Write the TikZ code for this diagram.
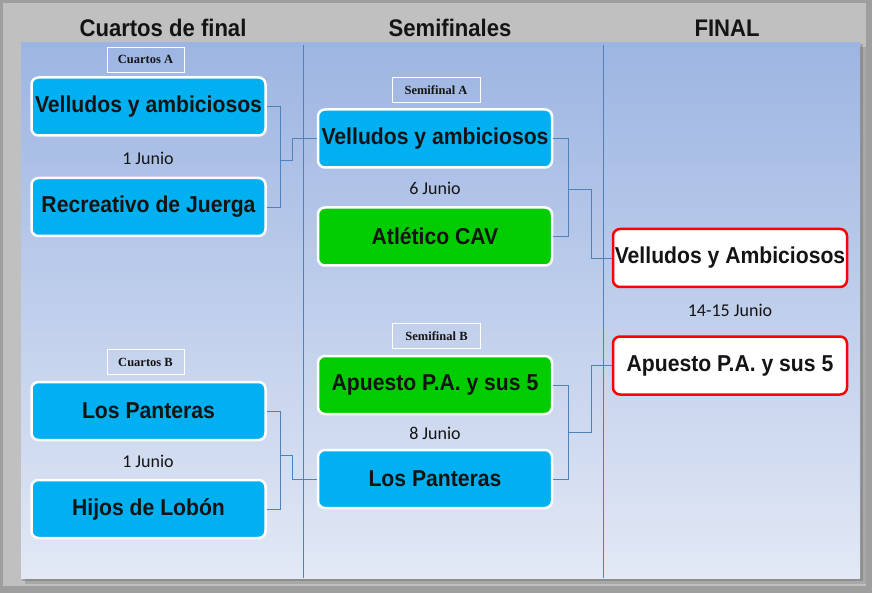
\documentclass[tikz,border=0pt]{standalone}
\usepackage{fontspec}
\setmainfont{Liberation Sans}
\newfontfamily\teamfont[FakeStretch=0.92]{Liberation Sans}
\newfontfamily\datefont{Carlito}
\newfontfamily\tagfont{Liberation Serif}
\definecolor{brBlue}{RGB}{0, 176, 240}
\definecolor{brGreen}{RGB}{0, 204, 0}
\definecolor{brRed}{RGB}{255, 0, 0}
\definecolor{brLink}{RGB}{79, 129, 189}
\definecolor{brTop}{RGB}{157, 181, 226}
\definecolor{brBottom}{RGB}{226, 232, 245}
\definecolor{brFrame}{RGB}{192, 192, 192}
\definecolor{brEdge}{RGB}{158, 158, 158}
\definecolor{brInk}{RGB}{20, 20, 20}
\usetikzlibrary{positioning}
\tikzset{
  team/.style={rectangle, rounded corners=7pt, draw=white, line width=2.5pt, fill=#1, minimum width=234pt, minimum height=58pt, inner sep=0pt, align=center, text=brInk, font=\teamfont\bfseries\fontsize{23}{26}\selectfont},
  team/.default=brBlue,
  finalteam/.style={team=white, draw=brRed},
  tagbox/.style={rectangle, draw=white, line width=0.8pt, minimum width=77pt, minimum height=25pt, inner sep=0pt, text=brInk, font=\tagfont\bfseries\fontsize{12.5}{14}\selectfont},
  datelbl/.style={text=brInk, font=\datefont\fontsize{18}{20}\selectfont},
  colhead/.style={text=brInk, font=\teamfont\bfseries\fontsize{24}{28}\selectfont},
  link/.style={draw=brLink, line width=0.8pt},
}

\begin{document}
\begin{tikzpicture}[x=1pt, y=-1pt]
  \useasboundingbox (0,0) rectangle (872,593);

  % Frame and panel
  \fill[brEdge] (0,0) rectangle (872,593);
  \fill[brFrame] (3,3) rectangle (866,586);
  \fill[black, opacity=0.12] (25,47) rectangle (866,584);
  \fill[black, opacity=0.15] (22,44) rectangle (863,581);
  \shade[top color=brTop, bottom color=brBottom] (21,43) rectangle (860,578);

  % Column dividers
  \draw[link] (303,45) -- (303,578);
  \draw[link] (603,45) -- (603,578);

  % Column headers
  \node[colhead] (h1) at (163,28) {Cuartos de final};
  \node[colhead] (h2) at (450,28) {Semifinales};
  \node[colhead] (h3) at (727,28) {FINAL};

  % Quarter-finals
  \node[tagbox] (qat) at (145.5,59.5) {Cuartos A};
  \node[team] (qa1) at (148.5,106.5) {Velludos y ambiciosos};
  \node[datelbl] (qad) at (148,158) {1 Junio};
  \node[team] (qa2) at (148.5,207) {Recreativo de Juerga};

  \node[tagbox] (qbt) at (145.5,362) {Cuartos B};
  \node[team] (qb1) at (148.5,411) {Los Panteras};
  \node[datelbl] (qbd) at (148,461) {1 Junio};
  \node[team] (qb2) at (148.5,509) {Hijos de Lobón};

  % Semi-finals
  \node[tagbox, minimum width=88pt] (sat) at (436,90) {Semifinal A};
  \node[team] (sa1) at (435,138.5) {Velludos y ambiciosos};
  \node[datelbl] (sad) at (435,188) {6 Junio};
  \node[team=brGreen] (sa2) at (435,236.5) {Atlético CAV};

  \node[tagbox, minimum width=88pt] (sbt) at (436.5,336) {Semifinal B};
  \node[team=brGreen] (sb1) at (435,385) {Apuesto P.A. y sus 5};
  \node[datelbl] (sbd) at (435,433) {8 Junio};
  \node[team] (sb2) at (435,479) {Los Panteras};

  % Final
  \node[finalteam] (fin1) at (730,258) {Velludos y Ambiciosos};
  \node[datelbl] (find) at (730,310) {14-15 Junio};
  \node[finalteam] (fin2) at (730,365.5) {Apuesto P.A. y sus 5};

  % Bracket joints
  \coordinate (qaj) at (280,160);
  \coordinate (qbj) at (280,455);
  \coordinate (saj) at (568,189);
  \coordinate (sbj) at (568,432);

  % Connectors
  \draw[link] (qa1.east) -| (qaj);
  \draw[link] (qa2.east) -| (qaj);
  \draw[link] (qaj) -- ++(12,0) |- (sa1.west);
  \draw[link] (qb1.east) -| (qbj);
  \draw[link] (qb2.east) -| (qbj);
  \draw[link] (qbj) -- ++(12,0) |- (sb2.west);
  \draw[link] (sa1.east) -| (saj);
  \draw[link] (sa2.east) -| (saj);
  \draw[link] (saj) -- ++(23,0) |- (fin1.west);
  \draw[link] (sb1.east) -| (sbj);
  \draw[link] (sb2.east) -| (sbj);
  \draw[link] (sbj) -- ++(23,0) |- (fin2.west);
\end{tikzpicture}
\end{document}
